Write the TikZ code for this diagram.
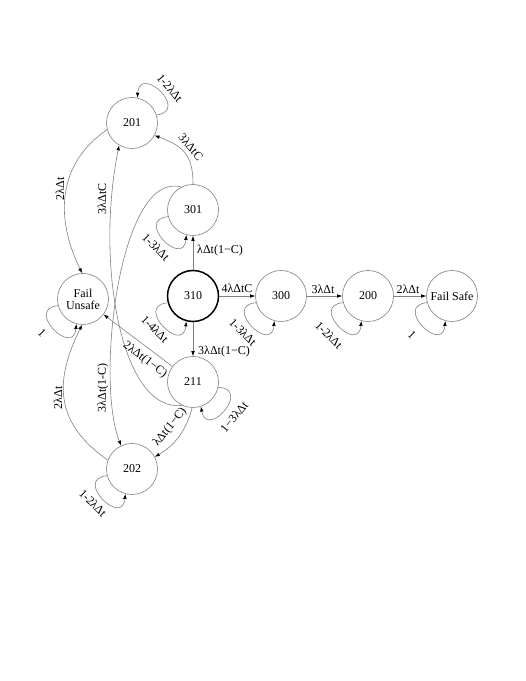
\documentclass[tikz,border=0pt]{standalone}
\usepackage{fontspec}
\setmainfont{Liberation Serif}
\usetikzlibrary{arrows.meta}
\definecolor{ln}{RGB}{128,128,128}
\newcommand{\lfont}{\fontsize{12}{14}\selectfont}
\begin{document}
\begin{tikzpicture}[x=1pt,y=1pt,
  st/.style={circle,draw=ln,line width=0.6pt,minimum size=51pt,inner sep=0pt,font=\lfont},
  arr/.style={draw=ln,line width=0.6pt,-{Latex[length=5pt,width=3.6pt,color=black]}},
  lbl/.style={inner sep=0pt,font=\lfont}]
\useasboundingbox (0,0) rectangle (526,681);
% states
\node[st] (n201) at (132,558) {201};
\node[st] (n301) at (193,471) {301};
\node[st,draw=black,line width=1.5pt] (n310) at (193,385) {310};
\node[st] (n300) at (281,385) {300};
\node[st] (n200) at (368,385) {200};
\node[st] (nFS) at (452,385) {Fail Safe};
\node[st,align=center] (nFU) at (83,382) {Fail\\[-2pt]Unsafe};
\node[st] (n211) at (193,299) {211};
\node[st] (n202) at (132,212) {202};
% straight transitions
\draw[arr] (n310) -- (n301);
\draw[arr] (n310) -- (n300);
\draw[arr] (n300) -- (n200);
\draw[arr] (n200) -- (nFS);
\draw[arr] (n310) -- (n211);
\draw[arr] (n211) -- (nFU);
% self loops
\draw[arr] (n310.195) .. controls +(185:34) and +(265:34) .. (n310.255);
\draw[arr] (n301.195) .. controls +(185:34) and +(265:34) .. (n301.255);
\draw[arr] (n300.195) .. controls +(185:34) and +(265:34) .. (n300.255);
\draw[arr] (n200.195) .. controls +(185:34) and +(265:34) .. (n200.255);
\draw[arr] (nFS.195) .. controls +(185:34) and +(265:34) .. (nFS.255);
\draw[arr] (nFU.195) .. controls +(185:34) and +(265:34) .. (nFU.255);
\draw[arr] (n202.195) .. controls +(185:34) and +(265:34) .. (n202.255);
\draw[arr] (n201.18) .. controls +(8:34) and +(86:34) .. (n201.78);
\draw[arr] (n211.348) .. controls +(358:34) and +(280:34) .. (n211.288);
% curved transitions
\draw[arr] (n301.90) .. controls +(0,30) and +(28.2,-10.3) .. (n201.331);
\draw[arr] (n201.195) .. controls +(-50.4,-34.4) and +(-26.8,54.6) .. (nFU.92);
\draw[arr] (n301.117) .. controls +(-61.4,17.3) and +(-26.2,65.9) .. (n202.115);
\draw[arr] (n211.245) .. controls +(-60.2,-7.9) and +(-24.25,-119.9) .. (n201.240);
\draw[arr] (n211.268) .. controls +(-5,-20) and +(21.7,12.5) .. (n202.28);
\draw[arr] (n202.160) .. controls +(-50,35.3) and +(-30.1,-60.5) .. (nFU.268);
% loop labels
\node[lbl,rotate=-50] (l1) at (170,593) {1-2λΔt};
\node[lbl,rotate=-45] (l2) at (156,434) {1-3λΔt};
\node[lbl,rotate=-45] (l3) at (155,352) {1-4λΔt};
\node[lbl,rotate=-45] (l4) at (243,349) {1-3λΔt};
\node[lbl,rotate=-45] (l5) at (329,346) {1-2λΔt};
\node[lbl,rotate=-45] (l6) at (412,346) {1};
\node[lbl,rotate=-45] (l7) at (42,348) {1};
\node[lbl,rotate=-45] (l8) at (93,178) {1-2λΔt};
\node[lbl,rotate=50] (l9) at (234,264) {1−3λΔt};
% transition labels
\node[lbl,anchor=west] (t1) at (197,430) {λΔt(1−C)};
\node[lbl] (t2) at (237,393) {4λΔtC};
\node[lbl] (t3) at (323,392) {3λΔt};
\node[lbl] (t4) at (408,392) {2λΔt};
\node[lbl,anchor=west] (t5) at (198,329) {3λΔt(1−C)};
\node[lbl,rotate=-37] (t6) at (145,321) {2λΔt(1−C)};
\node[lbl,rotate=51] (t7) at (170,254) {λΔt(1−C)};
\node[lbl,rotate=-50] (t8) at (191,534) {3λΔtC};
\node[lbl,rotate=90] (t9) at (60,492) {2λΔt};
\node[lbl,rotate=90] (t10) at (102,482) {3λΔtC};
\node[lbl,rotate=90] (t11) at (103,293) {3λΔt(1-C)};
\node[lbl,rotate=90] (t12) at (58,283) {2λΔt};
\end{tikzpicture}
\end{document}
